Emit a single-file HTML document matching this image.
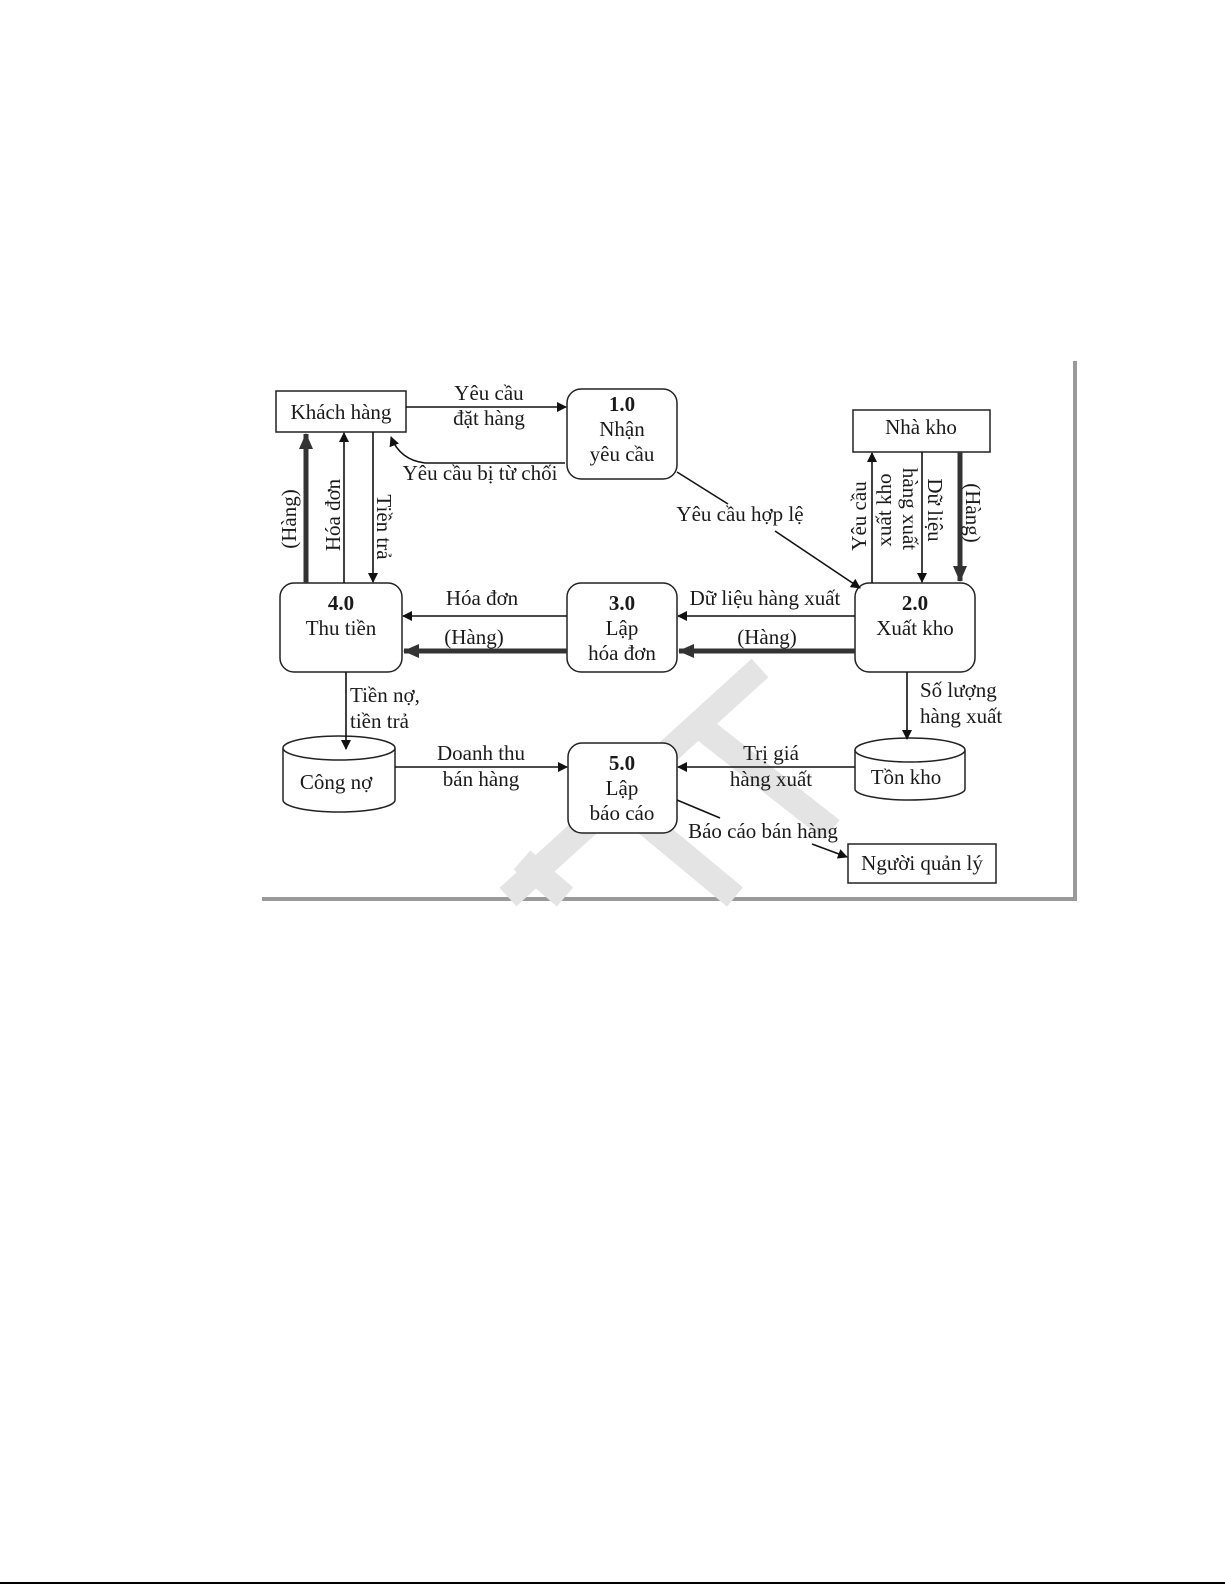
<!DOCTYPE html>
<html><head><meta charset="utf-8"><style>
html,body{margin:0;padding:0;background:#fff;}
svg{display:block;}
text{font-family:"Liberation Serif",serif;font-size:21px;fill:#1a1a1a;}
</style></head><body>
<svg width="1225" height="1585" viewBox="0 0 1225 1585" xmlns="http://www.w3.org/2000/svg">
<defs>
<marker id="a" markerWidth="10" markerHeight="10" refX="9" refY="5" orient="auto" markerUnits="userSpaceOnUse"><path d="M0,0 L10,5 L0,10 z" fill="#111"/></marker>
<marker id="b" markerWidth="16" markerHeight="14" refX="15" refY="7" orient="auto" markerUnits="userSpaceOnUse"><path d="M0,0 L16,7 L0,14 z" fill="#333"/></marker>
</defs>
<rect x="262" y="361" width="815" height="540" fill="#9a9a9a"/>
<rect x="258" y="357" width="815" height="540" fill="#fff"/>
<g stroke="#e4e4e4" stroke-width="25" stroke-linecap="butt" fill="none">
<line x1="760" y1="668" x2="508" y2="897"/>
<line x1="702" y1="728" x2="832" y2="830"/>
<line x1="618" y1="800" x2="735" y2="897"/>
<line x1="522" y1="860" x2="565" y2="897"/>
</g>
<g fill="none" stroke="#222" stroke-width="1.5">
<rect x="276" y="391" width="130" height="41" fill="#fff"/>
<rect x="853" y="410" width="137" height="42" fill="#fff"/>
<rect x="848" y="844" width="148" height="39" fill="#fff"/>
<rect x="567" y="389" width="110" height="90" rx="14" fill="#fff"/>
<rect x="567" y="583" width="110" height="89" rx="14" fill="#fff"/>
<rect x="280" y="583" width="122" height="89" rx="14" fill="#fff"/>
<rect x="855" y="583" width="120" height="89" rx="14" fill="#fff"/>
<rect x="568" y="743" width="109" height="90" rx="14" fill="#fff"/>
<path d="M283,748 L283,800 A56,12 0 0 0 395,800 L395,748" fill="#fff"/>
<ellipse cx="339" cy="748" rx="56" ry="12" fill="#fff"/>
<path d="M855,750 L855,789 A55,11 0 0 0 965,789 L965,750" fill="#fff"/>
<ellipse cx="910" cy="750" rx="55" ry="12" fill="#fff"/>
</g>
<g stroke="#111" stroke-width="1.6" fill="none">
<line x1="406" y1="407" x2="566" y2="407" marker-end="url(#a)"/>
<path d="M565,463 L425,463 Q400,460 391,437" marker-end="url(#a)"/>
<line x1="677" y1="472" x2="728" y2="504"/>
<line x1="775" y1="531" x2="860" y2="588" marker-end="url(#a)"/>
<line x1="344" y1="583" x2="344" y2="433" marker-end="url(#a)"/>
<line x1="373" y1="432" x2="373" y2="582" marker-end="url(#a)"/>
<line x1="872" y1="583" x2="872" y2="453" marker-end="url(#a)"/>
<line x1="922" y1="452" x2="922" y2="582" marker-end="url(#a)"/>
<line x1="855" y1="616" x2="678" y2="616" marker-end="url(#a)"/>
<line x1="567" y1="616" x2="403" y2="616" marker-end="url(#a)"/>
<line x1="346" y1="672" x2="346" y2="749" marker-end="url(#a)"/>
<line x1="907" y1="672" x2="907" y2="739" marker-end="url(#a)"/>
<line x1="395" y1="767" x2="567" y2="767" marker-end="url(#a)"/>
<line x1="855" y1="767" x2="678" y2="767" marker-end="url(#a)"/>
<line x1="677" y1="800" x2="720" y2="818"/>
<line x1="812" y1="844" x2="847" y2="857" marker-end="url(#a)"/>
</g>
<g stroke="#333" stroke-width="5" fill="none">
<line x1="306" y1="583" x2="306" y2="434" marker-end="url(#b)"/>
<line x1="960" y1="452" x2="960" y2="581" marker-end="url(#b)"/>
<line x1="855" y1="651" x2="679" y2="651" marker-end="url(#b)"/>
<line x1="567" y1="651" x2="404" y2="651" marker-end="url(#b)"/>
</g>
<g text-anchor="middle">
<text x="341" y="419">Khách hàng</text>
<text x="921" y="434">Nhà kho</text>
<text x="922" y="870">Người quản lý</text>
<text x="489" y="400">Yêu cầu</text>
<text x="489" y="425">đặt hàng</text>
<text x="622" y="411" font-weight="bold">1.0</text>
<text x="622" y="436">Nhận</text>
<text x="622" y="461">yêu cầu</text>
<text x="480" y="480">Yêu cầu bị từ chối</text>
<text x="740" y="521">Yêu cầu hợp lệ</text>
<text x="341" y="610" font-weight="bold">4.0</text>
<text x="341" y="635">Thu tiền</text>
<text x="622" y="610" font-weight="bold">3.0</text>
<text x="622" y="635">Lập</text>
<text x="622" y="660">hóa đơn</text>
<text x="915" y="610" font-weight="bold">2.0</text>
<text x="915" y="635">Xuất kho</text>
<text x="482" y="605">Hóa đơn</text>
<text x="474" y="644">(Hàng)</text>
<text x="765" y="605">Dữ liệu hàng xuất</text>
<text x="767" y="644">(Hàng)</text>
<text x="622" y="770" font-weight="bold">5.0</text>
<text x="622" y="795">Lập</text>
<text x="622" y="820">báo cáo</text>
<text x="481" y="760">Doanh thu</text>
<text x="481" y="786">bán hàng</text>
<text x="771" y="760">Trị giá</text>
<text x="771" y="786">hàng xuất</text>
<text x="336" y="789" font-size="19">Công nợ</text>
<text x="906" y="784" font-size="19">Tồn kho</text>
<text x="763" y="838">Báo cáo bán hàng</text>
</g>
<text x="350" y="702">Tiền nợ,</text>
<text x="350" y="728">tiền trả</text>
<text x="920" y="697">Số lượng</text>
<text x="920" y="723">hàng xuất</text>
<g text-anchor="middle">
<text transform="translate(296,519) rotate(-90)">(Hàng)</text>
<text transform="translate(340,515) rotate(-90)">Hóa đơn</text>
<text transform="translate(377,527) rotate(90)">Tiền trả</text>
<text transform="translate(866,516) rotate(-90)">Yêu cầu</text>
<text transform="translate(891,510) rotate(-90)">xuất kho</text>
<text transform="translate(928,510) rotate(90)">Dữ liệu</text>
<text transform="translate(903,509) rotate(90)">hàng xuất</text>
<text transform="translate(966,513) rotate(90)">(Hàng)</text>
</g>
<line x1="0" y1="1583" x2="1225" y2="1583" stroke="#000" stroke-width="2"/>
</svg>
</body></html>
